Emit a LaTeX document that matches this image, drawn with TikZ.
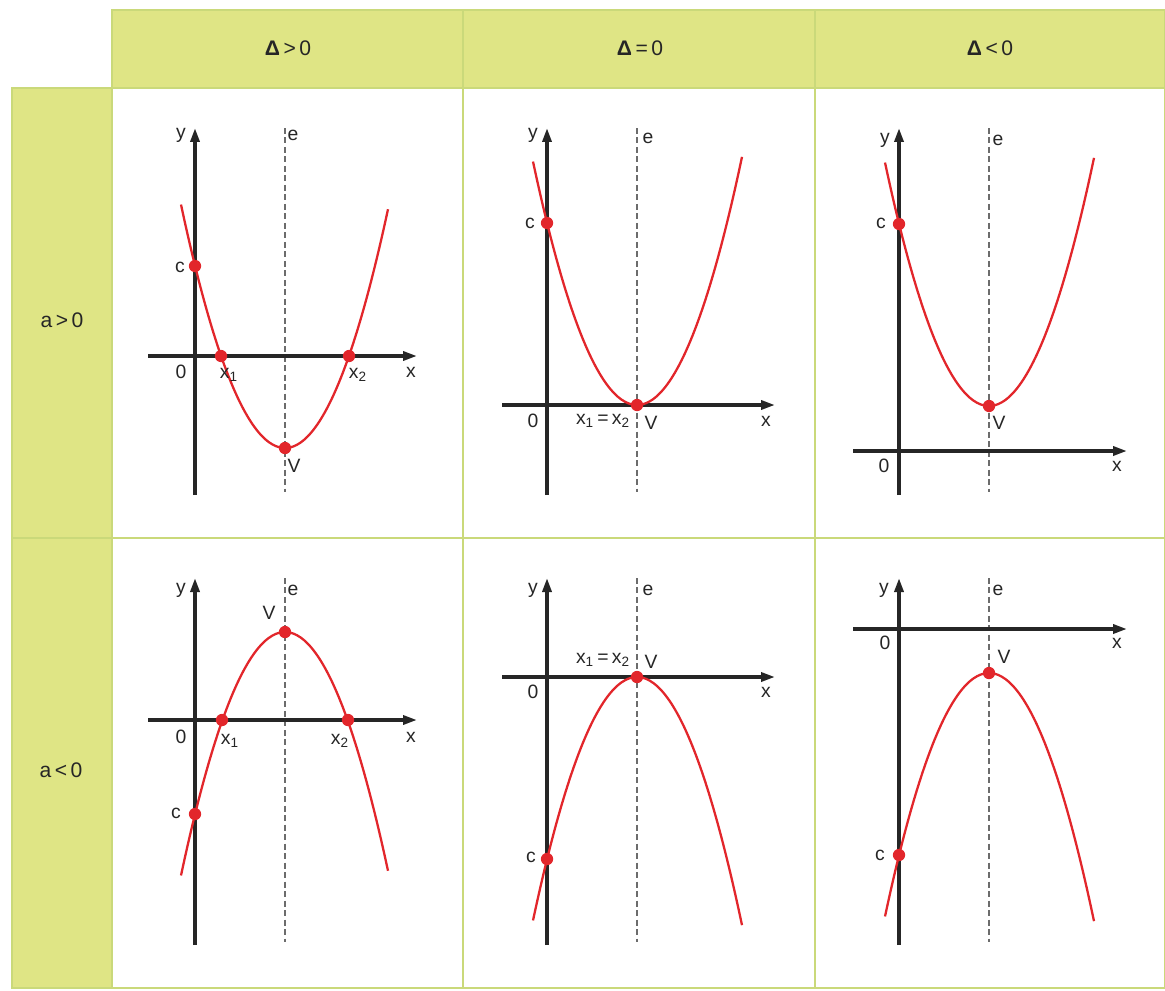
\documentclass[tikz,border=0pt]{standalone}
\usepackage{fontspec}
\setmainfont{Liberation Sans}
\usetikzlibrary{arrows.meta}
\definecolor{headgreen}{HTML}{DFE585}
\definecolor{gridgreen}{HTML}{CAD97A}
\definecolor{curvered}{HTML}{E2262B}
\definecolor{axisgray}{HTML}{262626}

\tikzset{
  axis/.style={draw=axisgray, line width=1.9pt, -{Triangle[length=2.8mm, width=1.8mm]}},
  sym/.style={draw=gray!85!black, line width=0.9pt, dash pattern=on 3.4pt off 2pt},
  curve/.style={draw=curvered, line width=1.3pt},
  dot/.style={circle, fill=curvered, inner sep=0pt, minimum size=7pt},
  lbl/.style={font=\fontsize{11}{13}\selectfont, text=axisgray, inner sep=1pt},
  headtxt/.style={font=\fontsize{12}{14}\selectfont, text=black!85},
  gridline/.style={draw=gridgreen, line width=0.6pt},
}

% parabola: vertex x, vertex y, sign (- opens up, + opens down), from, to
\newcommand{\parab}[5]{%
  \draw[curve] plot[domain=#4:#5, samples=60, smooth] (\x, {#2 #3 0.0225*(\x-#1)^2});}

\begin{document}
\begin{tikzpicture}[x=0.02cm, y=-0.02cm]
  \useasboundingbox (0,0) rectangle (1165,990);

  % header row and left column
  \fill[headgreen] (112,10) rectangle (1165,88);
  \fill[headgreen] (12,88) rectangle (112,988);
  \draw[gridline] (112,10) rectangle (1165,988);
  \draw[gridline] (12,88) rectangle (112,988);
  \draw[gridline] (112,88) -- (1165,88);
  \draw[gridline] (12,538) -- (1165,538);
  \foreach \xx in {463,815}
    \draw[gridline] (\xx,10) -- (\xx,988);

  \node[headtxt] (hpos) at (288,48) {{\bfseries Δ}\,>\,0};
  \node[headtxt] (hzero) at (640,48) {{\bfseries Δ}\,=\,0};
  \node[headtxt] (hneg) at (990,48) {{\bfseries Δ}\,<\,0};
  \node[headtxt] (apos) at (62,320) {a\,>\,0};
  \node[headtxt] (aneg) at (61,770) {a\,<\,0};

  % a>0, delta>0
  \draw[sym] (285,128) -- (285,492);
  \draw[axis] (195,495) -- (195,128);
  \draw[axis] (148,356) -- (417,356);
  \parab{285}{448}{-}{181}{388}
  \node[dot] (c1) at (195,266) {};
  \node[dot] (r11) at (221,356) {};
  \node[dot] (r12) at (349,356) {};
  \node[dot] (v1) at (285,448) {};
  \node[lbl] (y1) at (181,135) {y};
  \node[lbl] (e1) at (293,135) {e};
  \node[lbl] (x1) at (411,372) {x};
  \node[lbl] (o1) at (181,372) {0};
  \node[lbl] (l11) at (229,375) {x\textsubscript{1}};
  \node[lbl] (l12) at (358,375) {x\textsubscript{2}};
  \node[lbl] (lc1) at (180,267) {c};
  \node[lbl] (lv1) at (294,466) {V};

  % a>0, delta=0
  \draw[sym] (637,128) -- (637,492);
  \draw[axis] (547,495) -- (547,128);
  \draw[axis] (502,405) -- (775,405);
  \parab{637}{405}{-}{533}{742}
  \node[dot] (c2) at (547,223) {};
  \node[dot] (v2) at (637,405) {};
  \node[lbl] (y2) at (533,135) {y};
  \node[lbl] (e2) at (648,138) {e};
  \node[lbl] (x2) at (766,421) {x};
  \node[lbl] (o2) at (533,421) {0};
  \node[lbl] (l2) at (603,421) {x\textsubscript{1}\,=\,x\textsubscript{2}};
  \node[lbl] (lc2) at (530,223) {c};
  \node[lbl] (lv2) at (651,423) {V};

  % a>0, delta<0
  \draw[sym] (989,128) -- (989,492);
  \draw[axis] (899,495) -- (899,128);
  \draw[axis] (853,451) -- (1127,451);
  \parab{989}{406}{-}{885}{1094}
  \node[dot] (c3) at (899,224) {};
  \node[dot] (v3) at (989,406) {};
  \node[lbl] (y3) at (885,140) {y};
  \node[lbl] (e3) at (998,140) {e};
  \node[lbl] (x3) at (1117,466) {x};
  \node[lbl] (o3) at (884,466) {0};
  \node[lbl] (lc3) at (881,223) {c};
  \node[lbl] (lv3) at (999,423) {V};

  % a<0, delta>0
  \draw[sym] (285,578) -- (285,942);
  \draw[axis] (195,945) -- (195,578);
  \draw[axis] (148,720) -- (417,720);
  \parab{285}{632}{+}{181}{388}
  \node[dot] (c4) at (195,814) {};
  \node[dot] (r41) at (222,720) {};
  \node[dot] (r42) at (348,720) {};
  \node[dot] (v4) at (285,632) {};
  \node[lbl] (y4) at (181,590) {y};
  \node[lbl] (e4) at (293,590) {e};
  \node[lbl] (x4) at (411,737) {x};
  \node[lbl] (o4) at (181,737) {0};
  \node[lbl] (l41) at (230,741) {x\textsubscript{1}};
  \node[lbl] (l42) at (340,741) {x\textsubscript{2}};
  \node[lbl] (lc4) at (176,813) {c};
  \node[lbl] (lv4) at (269,613) {V};

  % a<0, delta=0
  \draw[sym] (637,578) -- (637,942);
  \draw[axis] (547,945) -- (547,578);
  \draw[axis] (502,677) -- (775,677);
  \parab{637}{677}{+}{533}{742}
  \node[dot] (c5) at (547,859) {};
  \node[dot] (v5) at (637,677) {};
  \node[lbl] (y5) at (533,590) {y};
  \node[lbl] (e5) at (648,590) {e};
  \node[lbl] (x5) at (766,692) {x};
  \node[lbl] (o5) at (533,692) {0};
  \node[lbl] (l5) at (603,660) {x\textsubscript{1}\,=\,x\textsubscript{2}};
  \node[lbl] (lc5) at (531,857) {c};
  \node[lbl] (lv5) at (651,662) {V};

  % a<0, delta<0
  \draw[sym] (989,578) -- (989,942);
  \draw[axis] (899,945) -- (899,578);
  \draw[axis] (853,629) -- (1127,629);
  \parab{989}{673}{+}{885}{1094}
  \node[dot] (c6) at (899,855) {};
  \node[dot] (v6) at (989,673) {};
  \node[lbl] (y6) at (884,590) {y};
  \node[lbl] (e6) at (998,590) {e};
  \node[lbl] (x6) at (1117,643) {x};
  \node[lbl] (o6) at (885,643) {0};
  \node[lbl] (lc6) at (880,855) {c};
  \node[lbl] (lv6) at (1004,657) {V};
\end{tikzpicture}
\end{document}
